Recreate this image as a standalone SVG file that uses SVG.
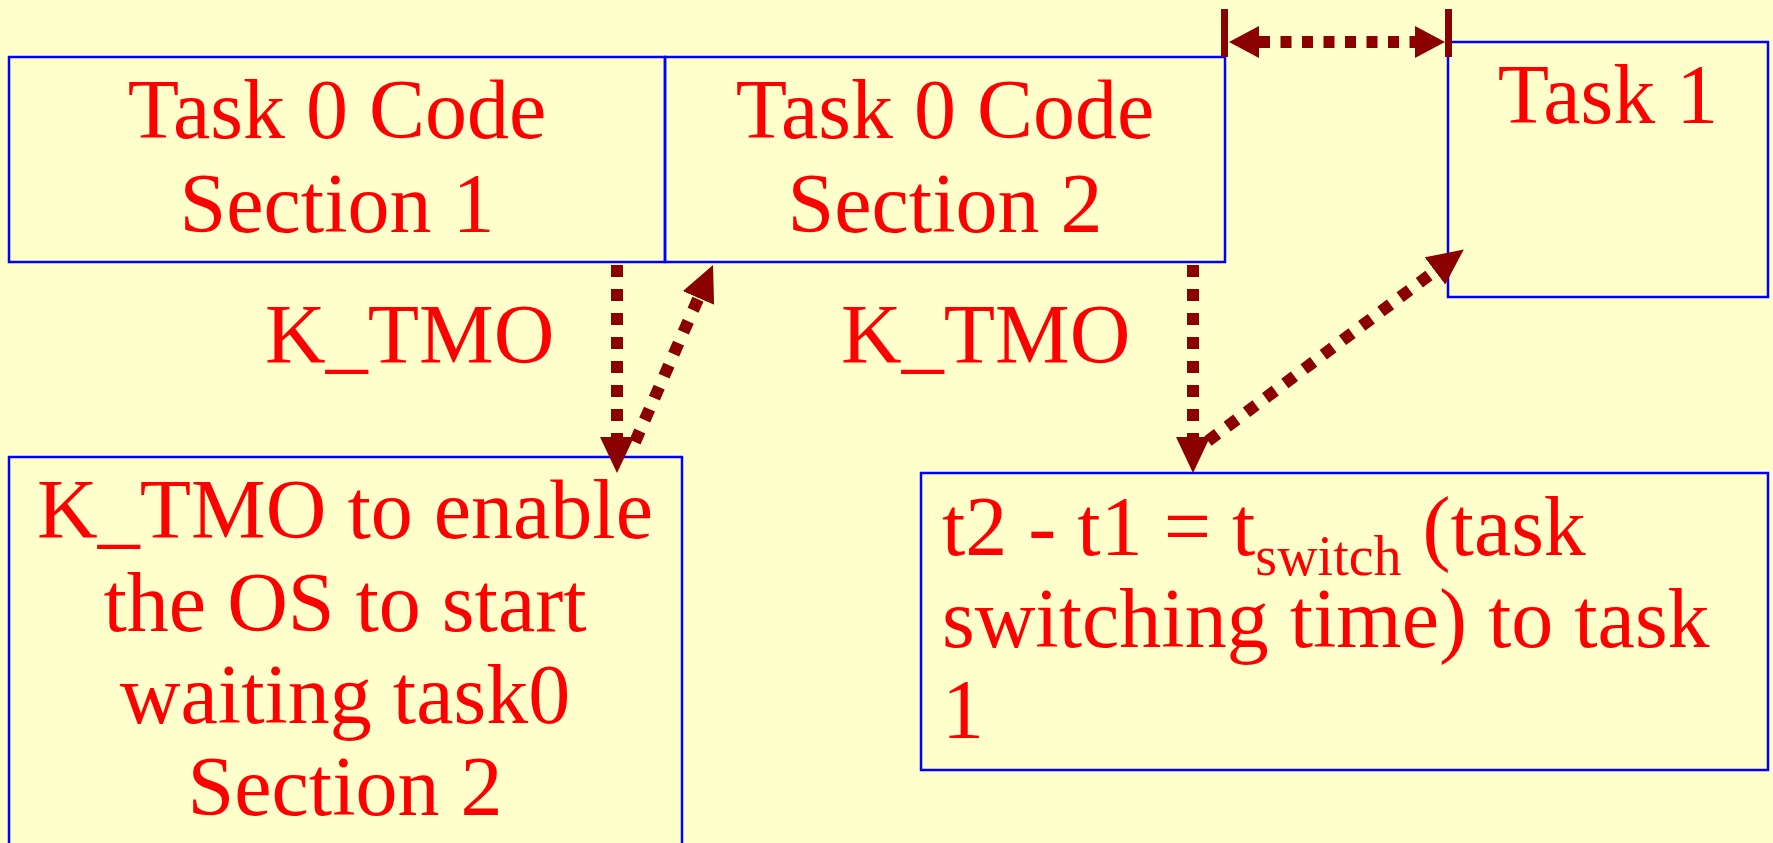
<svg xmlns="http://www.w3.org/2000/svg" width="1773" height="843" viewBox="0 0 1773 843">
<defs>
<style>
.box{fill:none;stroke:#0000FF;stroke-width:2.5}
.t{font-family:"Liberation Serif","Times New Roman",serif;font-size:84px;fill:#FF0000}
.c{text-anchor:middle}
.ln{fill:none;stroke:#8B0000;stroke-width:12;stroke-dasharray:12 12}
.lh{fill:none;stroke:#8B0000;stroke-width:12;stroke-dasharray:11 10.5}
.tick{fill:#8B0000}
</style>
<marker id="ah" markerUnits="userSpaceOnUse" markerWidth="36" markerHeight="34" refX="0" refY="17" orient="auto" viewBox="0 0 36 34">
<path d="M0,0 L36,17 L0,34 z" fill="#8B0000"/>
</marker>
<marker id="ahs" markerUnits="userSpaceOnUse" markerWidth="30" markerHeight="32" refX="0" refY="16" orient="auto-start-reverse" viewBox="0 0 30 32">
<path d="M0,0 L30,16 L0,32 z" fill="#8B0000"/>
</marker>
</defs>
<rect x="0" y="0" width="1773" height="843" fill="#FFFFCC"/>

<g id="task0-section1">
<rect class="box" x="9" y="57" width="656" height="205"/>
<text class="t c" x="337" y="138">Task 0 Code</text>
<text class="t c" x="337" y="232">Section 1</text>
</g>

<g id="task0-section2">
<rect class="box" x="665" y="57" width="560" height="205"/>
<text class="t c" x="945" y="138">Task 0 Code</text>
<text class="t c" x="945" y="232">Section 2</text>
</g>

<g id="task1">
<rect class="box" x="1448" y="42" width="320" height="255"/>
<text class="t c" x="1608" y="123">Task 1</text>
</g>

<g id="ktmo-note">
<rect class="box" x="9" y="457" width="673" height="400"/>
<text class="t c" x="345" y="538">K_TMO to enable</text>
<text class="t c" x="345" y="631">the OS to start</text>
<text class="t c" x="345" y="723">waiting task0</text>
<text class="t c" x="345" y="815">Section 2</text>
</g>

<g id="tswitch-note">
<rect class="box" x="921" y="473" width="847" height="297"/>
<text class="t" x="942" y="555">t2 - t1 = t<tspan font-size="56" dy="20">switch</tspan><tspan dy="-20"> (task</tspan></text>
<text class="t" x="942" y="647">switching time) to task</text>
<text class="t" x="942" y="738">1</text>
</g>

<g id="label-ktmo-1">
<text class="t" x="265" y="363">K_TMO</text>
</g>
<g id="label-ktmo-2">
<text class="t" x="841" y="363">K_TMO</text>
</g>

<g id="connectors">
<path class="ln" d="M617,265 L617,437" marker-end="url(#ah)"/>
<path class="ln" d="M635,442 L698.5,298" marker-end="url(#ah)"/>
<path class="ln" d="M1193,265 L1193,437" marker-end="url(#ah)"/>
<path class="ln" d="M1208,441 L1435,271" marker-end="url(#ah)"/>
<rect class="tick" x="1221" y="9" width="7" height="48"/>
<rect class="tick" x="1445" y="9" width="7" height="48"/>
<path class="lh" d="M1259,42 L1415,42" marker-start="url(#ahs)" marker-end="url(#ahs)"/>
</g>
</svg>
